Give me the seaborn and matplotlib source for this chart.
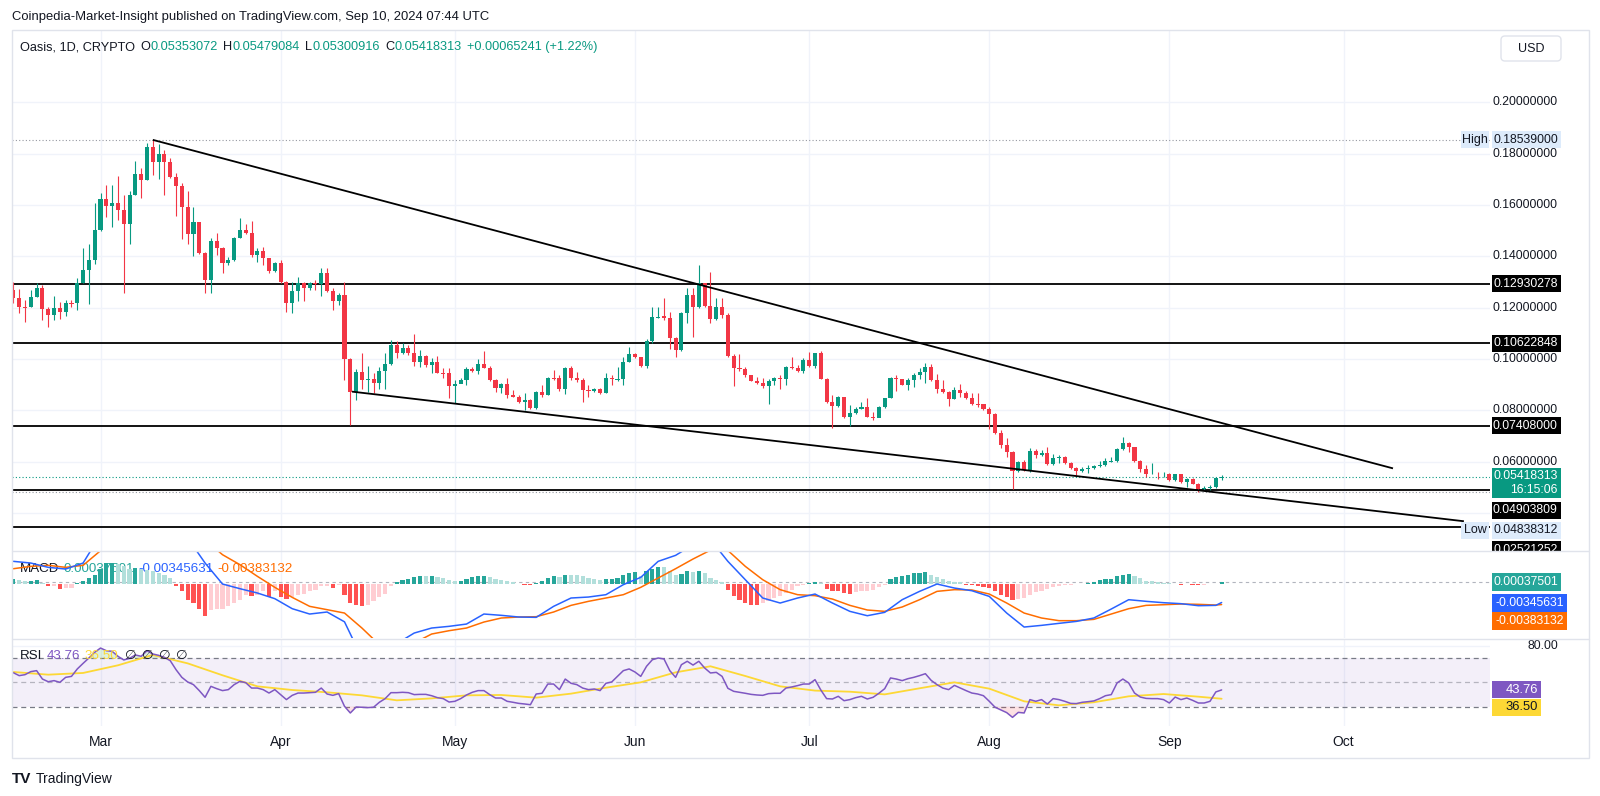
import numpy as np
import pandas as pd
import matplotlib
matplotlib.use("Agg")
import matplotlib.pyplot as plt
import matplotlib.transforms as mtrans
from matplotlib.patches import Rectangle, FancyBboxPatch
from matplotlib.lines import Line2D
import seaborn as sns

# ---------------- data (Oasis 1D) ----------------
start_date = "2024-02-15"
first_open = 0.1269

close_feb = [0.1236, 0.1204, 0.1201, 0.1243, 0.1275, 0.1196, 0.1171, 0.1198, 0.1184, 0.1219, 0.1217, 0.1298, 0.1347, 0.1385, 0.1502]
high_feb = [0.1301, 0.1271, 0.1230, 0.1269, 0.1297, 0.1288, 0.1204, 0.1247, 0.1223, 0.1230, 0.1230, 0.1317, 0.1431, 0.1450, 0.1609]
low_feb = [0.1219, 0.1178, 0.1145, 0.1201, 0.1240, 0.1152, 0.1126, 0.1152, 0.1156, 0.1169, 0.1204, 0.1191, 0.1295, 0.1214, 0.1372]

close_mar = [0.1622, 0.1596, 0.1606, 0.1580, 0.1528, 0.1639, 0.1721, 0.1697, 0.1825, 0.1769, 0.1797, 0.1769, 0.1710, 0.1675, 0.1593, 0.1487,
             0.1532, 0.1415, 0.1308, 0.1460, 0.1432, 0.1376, 0.1385, 0.1473, 0.1502, 0.1492, 0.1405, 0.1421, 0.1392, 0.1344, 0.1375]
high_mar = [0.1645, 0.1678, 0.1678, 0.1713, 0.1639, 0.1656, 0.1773, 0.1743, 0.1840, 0.18539, 0.1836, 0.1814, 0.1782, 0.1726, 0.1684, 0.1656,
            0.1591, 0.1535, 0.1418, 0.1473, 0.1492, 0.1437, 0.1398, 0.1476, 0.1548, 0.1528, 0.1537, 0.1431, 0.1437, 0.1395, 0.1379]
low_mar = [0.1500, 0.1552, 0.1515, 0.1541, 0.1258, 0.1448, 0.1639, 0.1628, 0.1697, 0.1717, 0.1702, 0.1641, 0.1705, 0.1558, 0.1466, 0.1450,
           0.1400, 0.1411, 0.1258, 0.1258, 0.1405, 0.1335, 0.1366, 0.1382, 0.1470, 0.1486, 0.1398, 0.1379, 0.1367, 0.1334, 0.1340]

close_apr = [0.1301, 0.1219, 0.1265, 0.1297, 0.1278, 0.1295, 0.1291, 0.1336, 0.1266, 0.1226, 0.1249, 0.1002, 0.0872, 0.0948, 0.0920,
             0.0922, 0.0907, 0.0953, 0.0979, 0.1054, 0.1023, 0.1042, 0.1025, 0.0990, 0.1012, 0.0977, 0.0990, 0.0947, 0.0945, 0.0896]
high_apr = [0.1385, 0.1305, 0.1301, 0.1321, 0.1301, 0.1301, 0.1308, 0.1353, 0.1353, 0.1275, 0.1258, 0.1301, 0.1005, 0.0963, 0.1022,
            0.0974, 0.0944, 0.0970, 0.1022, 0.1076, 0.1071, 0.1061, 0.1055, 0.1098, 0.1035, 0.1016, 0.1003, 0.1012, 0.0964, 0.0964]
low_apr = [0.1295, 0.1184, 0.1178, 0.1226, 0.1226, 0.1269, 0.1269, 0.1245, 0.1262, 0.1191, 0.1210, 0.0920, 0.0742, 0.0840, 0.0885,
           0.0872, 0.0866, 0.0885, 0.0882, 0.0976, 0.1005, 0.1018, 0.1016, 0.0973, 0.0970, 0.0968, 0.0944, 0.0944, 0.0925, 0.0850]

close_may = [0.0903, 0.0918, 0.0960, 0.0953, 0.0981, 0.0966, 0.0918, 0.0888, 0.0901, 0.0860, 0.0853, 0.0831, 0.0840, 0.0808, 0.0873, 0.0860,
             0.0927, 0.0925, 0.0882, 0.0966, 0.0925, 0.0918, 0.0879, 0.0877, 0.0883, 0.0866, 0.0925, 0.0921, 0.0922, 0.0990, 0.1020]
high_may = [0.0918, 0.0925, 0.0970, 0.0970, 0.0999, 0.1031, 0.0973, 0.0922, 0.0908, 0.0927, 0.0879, 0.0860, 0.0869, 0.0843, 0.0877, 0.0899,
            0.0931, 0.0957, 0.0938, 0.0970, 0.0973, 0.0951, 0.0925, 0.0899, 0.0886, 0.0886, 0.0944, 0.0938, 0.0968, 0.1007, 0.1048]
low_may = [0.0827, 0.0905, 0.0899, 0.0951, 0.0940, 0.0964, 0.0916, 0.0873, 0.0866, 0.0850, 0.0851, 0.0830, 0.0801, 0.0805, 0.0805, 0.0853,
           0.0860, 0.0918, 0.0877, 0.0864, 0.0918, 0.0912, 0.0834, 0.0853, 0.0873, 0.0864, 0.0866, 0.0899, 0.0916, 0.0899, 0.0990]

close_jun = [0.1009, 0.0973, 0.1072, 0.1163, 0.1166, 0.1159, 0.1081, 0.1035, 0.1178, 0.1250, 0.1202, 0.1295, 0.1207, 0.1156, 0.1202,
             0.1172, 0.1012, 0.0964, 0.0960, 0.0938, 0.0916, 0.0908, 0.0896, 0.0916, 0.0925, 0.0921, 0.0970, 0.0964, 0.0955, 0.0996]
high_jun = [0.1022, 0.1009, 0.1077, 0.1202, 0.1202, 0.1237, 0.1185, 0.1085, 0.1185, 0.1276, 0.1276, 0.1366, 0.1298, 0.1338, 0.1237,
            0.1237, 0.1178, 0.1018, 0.1018, 0.0968, 0.0938, 0.0929, 0.0925, 0.0921, 0.0931, 0.0938, 0.0973, 0.1007, 0.0977, 0.1003]
low_jun = [0.1003, 0.0968, 0.0966, 0.1061, 0.1159, 0.1152, 0.1038, 0.1009, 0.1033, 0.1139, 0.1087, 0.1198, 0.1204, 0.1142, 0.1152,
           0.1159, 0.1009, 0.0895, 0.0953, 0.0931, 0.0913, 0.0903, 0.0886, 0.0825, 0.0899, 0.0882, 0.0899, 0.0960, 0.0951, 0.0944]

close_jul = [0.0973, 0.1022, 0.0922, 0.0834, 0.0817, 0.0853, 0.0775, 0.0788, 0.0805, 0.0812, 0.0775, 0.0772, 0.0814, 0.0847, 0.0925, 0.0921,
             0.0899, 0.0918, 0.0938, 0.0951, 0.0970, 0.0918, 0.0883, 0.0873, 0.0844, 0.0879, 0.0869, 0.0847, 0.0825, 0.0823, 0.0805]
high_jul = [0.1029, 0.1025, 0.1033, 0.0925, 0.0860, 0.0856, 0.0853, 0.0821, 0.0814, 0.0834, 0.0847, 0.0795, 0.0817, 0.0850, 0.0929, 0.0938,
            0.0921, 0.0925, 0.0947, 0.0964, 0.0986, 0.0981, 0.0942, 0.0918, 0.0875, 0.0892, 0.0903, 0.0875, 0.0866, 0.0866, 0.0825]
low_jul = [0.0970, 0.0964, 0.0921, 0.0830, 0.0730, 0.0814, 0.0772, 0.0741, 0.0786, 0.0804, 0.0773, 0.0762, 0.0779, 0.0808, 0.0847, 0.0877,
           0.0897, 0.0879, 0.0890, 0.0921, 0.0905, 0.0915, 0.0866, 0.0866, 0.0817, 0.0843, 0.0851, 0.0844, 0.0821, 0.0812, 0.0801]

close_aug = [0.0786, 0.0710, 0.0665, 0.0639, 0.0565, 0.0597, 0.0567, 0.0643, 0.0626, 0.0635, 0.0590, 0.0616, 0.0617, 0.0593, 0.0574, 0.0565,
             0.0571, 0.0574, 0.0584, 0.0587, 0.0602, 0.0603, 0.0648, 0.0674, 0.0656, 0.0602, 0.0570, 0.0552, 0.0554, 0.0552, 0.0554]
high_aug = [0.0814, 0.0788, 0.0723, 0.0691, 0.0643, 0.0604, 0.0606, 0.0652, 0.0648, 0.0645, 0.0656, 0.0630, 0.0626, 0.0622, 0.0600, 0.0580,
            0.0578, 0.0587, 0.0587, 0.0604, 0.0613, 0.0619, 0.0652, 0.0695, 0.0678, 0.0658, 0.0606, 0.0587, 0.0596, 0.0561, 0.0561]
low_aug = [0.0726, 0.0708, 0.0652, 0.0617, 0.0492, 0.0561, 0.0565, 0.0561, 0.0613, 0.0622, 0.0587, 0.0587, 0.0596, 0.0591, 0.0570, 0.0548,
           0.0561, 0.0557, 0.0571, 0.0580, 0.0583, 0.0600, 0.0600, 0.0645, 0.0639, 0.0600, 0.0561, 0.0541, 0.0552, 0.0531, 0.0541]

close_sep = [0.0528, 0.0551, 0.0522, 0.0531, 0.0515, 0.0492, 0.0496, 0.0502, 0.05353072, 0.05418313]
high_sep = [0.0557, 0.0553, 0.0552, 0.0535, 0.0535, 0.0518, 0.0505, 0.0509, 0.0537, 0.05479084]
low_sep = [0.0526, 0.0526, 0.0518, 0.0502, 0.0513, 0.04838312, 0.0489, 0.0489, 0.0496, 0.05300916]

# drawn levels / trend lines
levels = [0.12930278, 0.10622848, 0.07408000, 0.04903809, 0.0347]
high_mark = 0.18539000
low_mark = 0.04838312
last_price = 0.05418313
upper_trend = [("2024-03-10 00:00", 0.18539), ("2024-10-09 12:00", 0.0574)]
lower_trend = [("2024-04-13 07:00", 0.0873), ("2024-10-21 17:00", 0.0368)]
price_ticks = [0.20, 0.18, 0.16, 0.14, 0.12, 0.10, 0.08, 0.06]
grid_prices = [0.20, 0.18, 0.16, 0.14, 0.12, 0.10, 0.08, 0.06, 0.04]

# MACD histogram, daily, in units of 1e-4
hist_feb = [9.2, 7.3, 4.3, 4.3, 6.7, 1.8, -3.7, -3.7, -9.2, -8.0, -8.0, 1.2, 4.3, 10.4, 16.5]
hist_mar = [27.5, 37.9, 38.5, 36.1, 31.8, 27.5, 28.8, 27.5, 25.7, 22.6, 19.6, 16.5, 10.4, -4.9, -14.1, -29.4, -35.5, -45.9,
            -58.8, -47.7, -47.0, -46.5, -41.6, -35.5, -29.4, -20.2, -23.3, -20.2, -12.9, -25.1, -14.1]
hist_apr = [-25.1, -27.5, -25.1, -20.2, -19.0, -14.1, -11.0, -4.9, -4.6, -8.0, -1.8, -20.2, -35.5, -39.8, -40.4, -38.6, -32.4,
            -25.1, -19.0, -4.9, 2.4, 7.3, 9.2, 12.9, 14.7, 13.5, 13.8, 11.6, 10.4, 6.1]
hist_may = [4.3, 5.5, 9.2, 11.6, 13.5, 14.7, 11.6, 8.6, 7.3, 4.9, 2.4, -0.6, -1.8, -3.1, 1.8, 4.3, 10.4, 13.5, 11.6, 16.5, 16.2,
            15.3, 13.5, 10.4, 8.6, 7.3, 8.6, 8.8, 10.4, 16.5, 19.6]
hist_jun = [20.8, 13.5, 22.6, 27.5, 30.6, 30.0, 22.6, 15.3, 17.7, 22.6, 21.4, 23.9, 19.6, 10.4, 7.3, 3.1, -11.0, -23.3, -29.4,
            -35.5, -38.6, -39.8, -35.5, -32.4, -26.3, -23.3, -17.1, -11.0, -4.9, -1.8]
hist_jul = [0.6, 3.1, 1.2, -9.2, -12.9, -14.1, -17.1, -18.4, -15.3, -14.1, -12.9, -11.0, -6.7, -1.8, 8.6, 12.2, 14.1, 15.3, 19.0,
            19.6, 21.4, 16.5, 12.9, 8.0, 4.3, 3.1, 2.4, -1.8, -3.1, -4.3, -6.1]
hist_aug = [-8.0, -14.1, -20.2, -25.1, -29.4, -28.8, -26.3, -21.4, -15.9, -12.9, -9.8, -6.1, -3.7, -2.4, -1.8, -1.2, -0.6, 1.8,
            3.1, 6.1, 8.0, 9.2, 13.5, 16.5, 17.7, 14.7, 10.4, 5.5, 4.3, 2.4, 1.2]
hist_sep = [0.6, 0.3, -1.8, -0.3, -1.8, -3.1, -2.9, -0.6, -0.3, 3.7501]

# MACD and signal lines, read every 3rd day (plus last day), units of 1e-4
macd_line = [41.0, 37.9, 30.0, 26.9, 37.9, 90.0, 120.6, 132.8, 132.8, 114.4, 83.8, 37.9, -0.6, -9.2, -17.1, -27.5, -45.9, -55.7,
             -52.0, -70.0, -136.5, -161.0, -110.0, -90.6, -81.4, -78.3, -74.1, -55.7, -58.1, -61.2, -61.8, -41.6, -26.3, -24.5,
             -20.2, -1.8, 11.6, 41.0, 52.0, 71.6, 80.8, 41.0, 7.3, -26.3, -35.5, -26.3, -19.0, -35.5, -50.8, -58.8, -52.6, -29.4,
             -14.1, -0.6, -8.0, -12.9, -23.3, -53.9, -79.6, -76.5, -72.8, -69.2, -63.0, -46.5, -29.4, -32.4, -34.9, -36.7, -40.4,
             -39.8, -34.5631]
macd_signal = [27.5, 31.8, 33.7, 30.0, 33.7, 60.6, 80.8, 96.1, 105.3, 105.3, 96.1, 80.8, 53.2, 34.9, 13.5, -6.7, -25.1, -41.6,
               -47.7, -53.9, -81.4, -112.0, -130.4, -108.9, -92.4, -86.3, -81.4, -70.4, -63.0, -61.2, -60.6, -52.0, -39.8, -32.4,
               -26.3, -20.2, -6.7, 10.4, 27.5, 45.3, 61.5, 61.0, 31.8, 7.3, -11.0, -20.2, -22.0, -28.2, -39.8, -48.3, -50.8, -42.8,
               -29.4, -14.1, -11.0, -11.6, -19.0, -35.5, -53.9, -63.0, -67.9, -67.9, -65.5, -55.7, -45.9, -39.8, -38.6, -37.3,
               -37.9, -39.2, -38.3132]

# RSI (14), daily
rsi_feb = [57.9, 55.5, 56.3, 58.8, 59.6, 52.7, 50.5, 51.4, 50.0, 54.1, 54.9, 61.0, 65.6, 70.0, 74.7]
rsi_mar = [78.2, 76.0, 75.5, 71.4, 68.4, 69.7, 72.5, 71.4, 76.0, 73.3, 72.2, 70.5, 67.8, 60.4, 54.1, 50.3, 48.1, 43.2, 37.7,
           46.7, 44.8, 43.2, 44.0, 48.1, 50.8, 49.7, 45.3, 45.3, 44.0, 41.2, 44.0]
rsi_apr = [39.9, 35.8, 39.3, 41.2, 41.2, 41.5, 41.8, 45.3, 40.4, 39.3, 40.7, 30.3, 24.8, 29.7, 29.5, 29.2, 29.5, 33.6, 36.6,
           41.5, 41.5, 41.8, 41.5, 39.9, 40.1, 40.1, 39.0, 37.4, 36.6, 33.8]
rsi_may = [34.4, 36.6, 39.6, 41.8, 43.2, 43.2, 39.9, 37.1, 37.1, 34.4, 33.6, 32.7, 32.2, 31.6, 40.4, 41.0, 48.6, 48.6, 44.0,
           52.7, 49.2, 48.1, 45.3, 44.0, 44.5, 43.2, 49.2, 50.3, 54.9, 59.6, 61.0]
rsi_jun = [58.5, 54.9, 63.2, 68.6, 70.0, 69.2, 59.6, 54.1, 64.5, 67.3, 64.2, 67.3, 61.8, 57.7, 58.2, 54.9, 45.1, 42.6, 41.8,
           41.0, 40.1, 39.6, 39.3, 40.7, 41.0, 41.0, 45.3, 46.2, 47.3, 48.6]
rsi_jul = [48.6, 52.2, 43.7, 36.6, 36.3, 38.5, 34.9, 35.8, 37.4, 38.5, 36.3, 37.7, 41.0, 44.8, 53.6, 52.7, 51.4, 53.0, 54.1,
           55.5, 57.1, 51.6, 48.1, 45.3, 44.0, 47.5, 45.3, 43.2, 41.2, 40.4, 39.0]
rsi_aug = [34.4, 29.5, 27.3, 25.1, 21.2, 25.3, 24.8, 35.8, 34.4, 35.8, 32.2, 36.6, 35.8, 34.4, 32.7, 32.5, 33.6, 34.1, 34.7,
           36.6, 39.0, 39.9, 49.5, 52.7, 49.5, 41.2, 37.9, 36.8, 36.6, 36.6, 35.8]
rsi_sep = [33.0, 37.9, 35.8, 37.1, 35.2, 33.0, 33.0, 34.4, 42.1, 43.76]

# RSI-based MA, read every 6th day (plus last day)
rsi_ma = [58.5, 56.3, 57.7, 64.0, 72.5, 65.6, 55.8, 46.7, 43.7, 41.8, 39.3, 35.2, 36.8, 39.3, 39.6, 37.4, 40.7, 45.6,
          50.0, 58.2, 63.2, 55.2, 46.7, 43.2, 42.3, 40.1, 45.1, 50.0, 44.8, 34.4, 31.1, 33.6, 38.5, 40.4, 38.2, 36.50]

months = ["Mar", "Apr", "May", "Jun", "Jul", "Aug", "Sep", "Oct"]

# ---------------- assemble ----------------
close = np.array(close_feb + close_mar + close_apr + close_may + close_jun + close_jul + close_aug + close_sep)
high = np.array(high_feb + high_mar + high_apr + high_may + high_jun + high_jul + high_aug + high_sep)
low = np.array(low_feb + low_mar + low_apr + low_may + low_jun + low_jul + low_aug + low_sep)
open_ = np.r_[first_open, close[:-1]]
hist = np.array(hist_feb + hist_mar + hist_apr + hist_may + hist_jun + hist_jul + hist_aug + hist_sep) * 1e-4
rsi = np.array(rsi_feb + rsi_mar + rsi_apr + rsi_may + rsi_jun + rsi_jul + rsi_aug + rsi_sep)

n = len(close)
t0 = pd.Timestamp(start_date)
x = np.arange(n)
macd_x = list(range(0, n - 1, 3)) + [n - 1]
ma_x = list(range(0, n - 1, 6)) + [n - 1]


def day(s):
    return (pd.Timestamp(s) - t0) / pd.Timedelta(days=1)


month_x = [day(d) for d in pd.date_range("2024-03-01", "2024-10-01", freq="MS")]

TEAL = "#089981"
RED = "#F23645"
DARK = "#131722"
BLUE = "#2962FF"
ORANGE = "#FF6D00"
PURPLE = "#7E57C2"
YELLOW = "#FDD835"
GRID = "#F0F3FA"
BORDER = "#E0E3EB"

sns.set_theme(style="white")
plt.rcParams["font.family"] = ["Liberation Sans", "DejaVu Sans"]

W, H = 1600, 796
fig = plt.figure(figsize=(W / 100, H / 100), dpi=100)
fig.patch.set_facecolor("white")


def add_pane(top, bottom, left=12, right=1490):
    return fig.add_axes([left / W, 1 - bottom / H, (right - left) / W, (bottom - top) / H])


ax_p = add_pane(31, 551)
ax_m = add_pane(551, 638)
ax_r = add_pane(640, 726)
lab_p = add_pane(31, 551, 1490, 1589)
lab_m = add_pane(551, 638, 1490, 1589)
lab_r = add_pane(640, 726, 1490, 1589)

for a in (ax_p, ax_m, ax_r, lab_p, lab_m, lab_r):
    a.axis("off")
for a in (ax_p, ax_m, ax_r):
    a.set_xlim(-0.24, 254.2)
    for mx in month_x:
        a.axvline(mx, color=GRID, lw=1, zorder=0)
ax_p.set_ylim(0.02521, 0.2278)
ax_m.set_ylim(-0.00997, 0.0060)
ax_r.set_ylim(14.1, 84.8)
for lab, a in ((lab_p, ax_p), (lab_m, ax_m), (lab_r, ax_r)):
    lab.set_xlim(0, 1)
    lab.set_ylim(a.get_ylim())

# ---------------- price pane ----------------
for gp in grid_prices:
    ax_p.axhline(gp, color=GRID, lw=1, zorder=0)
ax_p.axhline(high_mark, color="#9598A1", lw=0.8, ls=(0, (1, 2)), zorder=1)
ax_p.axhline(low_mark, color="#9598A1", lw=0.8, ls=(0, (1, 2)), zorder=1)
ax_p.axhline(last_price, color=TEAL, lw=0.8, ls=(0, (1, 2)), zorder=1)
for lv in levels:
    ax_p.axhline(lv, color="black", lw=1.3, zorder=2)

col = np.where(close >= open_, TEAL, RED)
ax_p.vlines(x, low, high, colors=col, lw=0.8, zorder=3)
body = np.maximum(np.abs(close - open_), 0.0003)
ax_p.bar(x, body, bottom=np.minimum(open_, close) - np.where(np.abs(close - open_) < 0.0003, 0.00015, 0),
         width=0.7, color=col, lw=0, zorder=4)

for tr in (upper_trend, lower_trend):
    ax_p.plot([day(tr[0][0]), day(tr[1][0])], [tr[0][1], tr[1][1]], color="black", lw=1.3, zorder=5,
              solid_capstyle="butt")

# ---------------- MACD pane ----------------
prev = np.r_[hist[0], hist[:-1]]
hcol = np.where(hist >= 0, np.where(hist >= prev, "#26A69A", "#B2DFDB"),
                np.where(hist < prev, "#FF5252", "#FFCDD2"))
ax_m.bar(x, hist, width=0.72, color=hcol, lw=0, zorder=3)
ax_m.axhline(hist[-1], color="#B2B5BE", lw=0.8, ls=(0, (3, 3)), zorder=2)
sns.lineplot(x=macd_x, y=np.array(macd_signal) * 1e-4, ax=ax_m, color=ORANGE, linewidth=1.1, legend=False, zorder=4)
sns.lineplot(x=macd_x, y=np.array(macd_line) * 1e-4, ax=ax_m, color=BLUE, linewidth=1.1, legend=False, zorder=5)
ax_m.axis("off")

# ---------------- RSI pane ----------------
ax_r.axhline(80, color=GRID, lw=1, zorder=0)
ax_r.axhspan(30, 70, color=PURPLE, alpha=0.09, lw=0, zorder=0)
for lv, al in ((70, 1.0), (50, 0.5), (30, 1.0)):
    ax_r.axhline(lv, color="#787B86", lw=0.9, ls=(0, (4, 3)), alpha=al, zorder=1)
ax_r.fill_between(x, 70, rsi, where=rsi > 70, interpolate=True, color="#4CAF50", alpha=0.18, lw=0, zorder=1)
ax_r.fill_between(x, 30, rsi, where=rsi < 30, interpolate=True, color="#F23645", alpha=0.15, lw=0, zorder=1)
sns.lineplot(x=ma_x, y=rsi_ma, ax=ax_r, color=YELLOW, linewidth=1.3, legend=False, zorder=3)
sns.lineplot(x=x, y=rsi, ax=ax_r, color=PURPLE, linewidth=1.1, legend=False, zorder=4)
ax_r.axis("off")

blend = mtrans.blended_transform_factory(ax_r.transData, fig.transFigure)
for mx, m in zip(month_x, months):
    ax_r.text(mx, 1 - 742 / H, m, transform=blend, ha="center", va="center", fontsize=10, color=DARK, clip_on=False)


# ---------------- right scale labels ----------------
def tag(lab, val, text, fc=None, tc=DARK, nudge=0.0, h=17, size=8.8, right=0.717):
    y0, y1 = lab.get_ylim()
    per_px = (y1 - y0) / lab.bbox.height
    yc = val - nudge * per_px
    if fc is not None:
        lab.add_patch(Rectangle((0.02, yc - h / 2 * per_px), right - 0.02, h * per_px, fc=fc, ec="none",
                                clip_on=True, zorder=3))
    lab.text(right - 0.032, yc, text, ha="right", va="center", color=tc, fontsize=size, clip_on=True, zorder=4)


for pt in price_ticks:
    tag(lab_p, pt, f"{pt:.8f}")
tag(lab_p, high_mark, "0.18539000", fc="#DDEBFB")
tag(lab_p, 0.12930278, "0.12930278", fc="black", tc="white")
tag(lab_p, 0.10622848, "0.10622848", fc="black", tc="white")
tag(lab_p, 0.07408000, "0.07408000", fc="black", tc="white")
per_p = (lab_p.get_ylim()[1] - lab_p.get_ylim()[0]) / lab_p.bbox.height
lab_p.add_patch(Rectangle((0.02, last_price - 21 * per_p), 0.697, 30 * per_p, fc=TEAL, ec="none", zorder=3))
tag(lab_p, last_price, "0.05418313", tc="white", nudge=-1)
tag(lab_p, last_price, "16:15:06", tc="white", nudge=13.5)
tag(lab_p, 0.04903809, "0.04903809", fc="black", tc="white", nudge=20.5)
tag(lab_p, low_mark, "0.04838312", fc="#DDEBFB", nudge=38.5)
tag(lab_p, 0.02521252, "0.02521252", fc="black", tc="white", nudge=-1)

pblend = mtrans.blended_transform_factory(ax_p.transAxes, ax_p.transData)
for val, word, nud in ((high_mark, "High", 0), (low_mark, "Low", 38.5)):
    yc = val - nud * per_p
    ax_p.add_patch(Rectangle((0.9804, yc - 8.5 * per_p), 0.0189, 17 * per_p, transform=pblend,
                             fc="#DDEBFB", ec="none", zorder=6, clip_on=False))
    ax_p.text(0.9898, yc, word, transform=pblend, ha="center", va="center", fontsize=9, color=DARK,
              zorder=7, clip_on=False)

tag(lab_m, hist[-1], "0.00037501", fc="#26A69A", tc="white", h=18)
tag(lab_m, -0.00345631, "-0.00345631", fc=BLUE, tc="white", h=18, right=0.78)
tag(lab_m, -0.00383132, "-0.00383132", fc=ORANGE, tc="white", h=18, nudge=16, right=0.78)

tag(lab_r, 80, "80.00")
tag(lab_r, 43.76, "43.76", fc=PURPLE, tc="white", right=0.52, size=9.4)
tag(lab_r, 36.50, "36.50", fc=YELLOW, tc=DARK, nudge=8.5, right=0.52, size=9.4)


# ---------------- legends / header texts ----------------
def chain(ax, x_px, y_px, pieces, size, z=6):
    prev = None
    for s, c, gap in pieces:
        if prev is None:
            prev = ax.annotate(s, xy=(x_px / W, 1 - y_px / H), xycoords="figure fraction", color=c,
                               fontsize=size, va="center", ha="left", annotation_clip=False, zorder=z)
        else:
            prev = ax.annotate(s, xy=(1, 0.5), xycoords=prev, xytext=(gap, 0), textcoords="offset points",
                               color=c, fontsize=size, va="center", ha="left", annotation_clip=False, zorder=z)
    return prev


fig.text(12 / W, 1 - 17 / H, "Coinpedia-Market-Insight published on TradingView.com, Sep 10, 2024 07:44 UTC",
         fontsize=9.4, color=DARK, ha="left", va="center")
chain(ax_p, 20, 47, [("Oasis, 1D, CRYPTO", DARK, 0), ("O", DARK, 3.8), ("0.05353072", TEAL, 0.2),
                     ("H", DARK, 3.8), ("0.05479084", TEAL, 0.2), ("L", DARK, 3.8), ("0.05300916", TEAL, 0.2),
                     ("C", DARK, 3.8), ("0.05418313", TEAL, 0.2), ("+0.00065241 (+1.22%)", TEAL, 3.8)], 9.2)
chain(ax_m, 20, 569, [("MACD", DARK, 0), ("0.00037501", "#26A69A", 3), ("-0.00345631", BLUE, 3),
                      ("-0.00383132", ORANGE, 3)], 9.6, z=2)
chain(ax_r, 20, 656, [("RSI", DARK, 0), ("43.76", PURPLE, 3), ("36.50", YELLOW, 3), ("\u2205", DARK, 5),
                      ("\u2205", DARK, 4), ("\u2205", DARK, 4), ("\u2205", DARK, 4)], 9.6)

usd = FancyBboxPatch((1501, H - 61), 60, 25, boxstyle="round,pad=0,rounding_size=4",
                     fc="white", ec=BORDER, lw=1, transform=mtrans.IdentityTransform())
fig.add_artist(usd)
usd.set_transform(mtrans.IdentityTransform())
fig.text(1531 / W, 1 - 48.5 / H, "USD", fontsize=9, color=DARK, ha="center", va="center")

fig.text(12 / W, 1 - 779 / H, "TV", fontsize=11, fontweight="heavy", color=DARK, ha="left", va="center")
fig.text(36 / W, 1 - 779 / H, "TradingView", fontsize=10, color=DARK, ha="left", va="center")

# frame and pane separators
fig.add_artist(Rectangle((12 / W, 1 - 758 / H), 1577 / W, 728 / H, transform=fig.transFigure,
                         fill=False, ec=BORDER, lw=1))
for yy in (551, 639):
    fig.add_artist(Line2D([12 / W, 1589 / W], [1 - yy / H, 1 - yy / H], transform=fig.transFigure,
                          color=BORDER, lw=1))

fig.savefig("out.png", dpi=100)
